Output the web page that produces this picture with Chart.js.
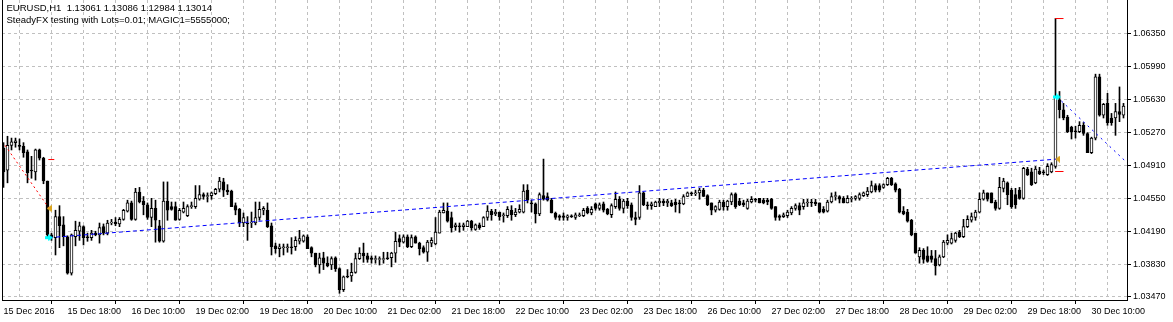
<!DOCTYPE html>
<html><head><meta charset="utf-8">
<script src="https://cdn.jsdelivr.net/npm/chart.js@4.4.1/dist/chart.umd.min.js"></script>
<style>html,body{margin:0;padding:0;background:#fff;overflow:hidden}</style>
</head><body>
<canvas id="c" width="1173" height="322"></canvas>
<script>
const headerLines = ["EURUSD,H1  1.13061 1.13086 1.12984 1.13014", "SteadyFX testing with Lots=0.01; MAGIC1=5555000;"];
const xTickLabels = ["15 Dec 2016","15 Dec 18:00","16 Dec 10:00","19 Dec 02:00","19 Dec 18:00","20 Dec 10:00","21 Dec 02:00","21 Dec 18:00","22 Dec 10:00","23 Dec 02:00","23 Dec 18:00","26 Dec 10:00","27 Dec 02:00","27 Dec 18:00","28 Dec 10:00","29 Dec 02:00","29 Dec 18:00","30 Dec 10:00"];
const yTickValues = [1.03470,1.03830,1.04190,1.04550,1.04910,1.05270,1.05630,1.05990,1.06350];

const open = [
1.0510,1.0486,1.0513,1.0516,1.0513,1.0512,1.0506,1.0486,1.0484,1.0508,
1.0499,1.0474,1.0415,1.0412,1.0435,1.0426,1.0413,1.0373,1.0413,1.0419,
1.0424,1.0413,1.0412,1.0417,1.0415,1.0424,1.0417,1.0428,1.0429,1.0427,
1.0432,1.0441,1.0450,1.0432,1.0462,1.0452,1.0448,1.0434,1.0444,1.0425,
1.0408,1.0452,1.0446,1.0446,1.0432,1.0440,1.0436,1.0446,1.0446,1.0454,
1.0459,1.0457,1.0458,1.0460,1.0465,1.0473,1.0464,1.0463,1.0447,1.0443,
1.0428,1.0428,1.0428,1.0428,1.0434,1.0442,1.0442,1.0425,1.0403,1.0400,
1.0401,1.0401,1.0402,1.0402,1.0408,1.0408,1.0413,1.0401,1.0395,1.0382,
1.0390,1.0384,1.0382,1.0390,1.0378,1.0355,1.0370,1.0370,1.0374,1.0389,
1.0395,1.0392,1.0390,1.0388,1.0388,1.0388,1.0390,1.0390,1.0395,1.0411,
1.0407,1.0413,1.0402,1.0413,1.0406,1.0401,1.0396,1.0406,1.0405,1.0417,
1.0439,1.0441,1.0434,1.0424,1.0425,1.0424,1.0424,1.0430,1.0421,1.0426,
1.0424,1.0434,1.0441,1.0438,1.0440,1.0436,1.0436,1.0442,1.0437,1.0440,
1.0440,1.0464,1.0450,1.0449,1.0438,1.0458,1.0457,1.0453,1.0439,1.0436,
1.0436,1.0434,1.0436,1.0434,1.0436,1.0436,1.0444,1.0439,1.0449,1.0444,
1.0449,1.0443,1.0437,1.0446,1.0454,1.0444,1.0452,1.0448,1.0434,1.0434,
1.0461,1.0448,1.0447,1.0446,1.0450,1.0452,1.0450,1.0450,1.0451,1.0450,
1.0449,1.0457,1.0461,1.0460,1.0461,1.0464,1.0458,1.0450,1.0442,1.0443,
1.0451,1.0446,1.0451,1.0460,1.0452,1.0450,1.0444,1.0451,1.0454,1.0455,
1.0453,1.0453,1.0454,1.0446,1.0436,1.0435,1.0436,1.0439,1.0444,1.0447,
1.0446,1.0450,1.0451,1.0451,1.0450,1.0443,1.0441,1.0451,1.0457,1.0457,
1.0455,1.0450,1.0454,1.0455,1.0455,1.0458,1.0459,1.0462,1.0469,1.0469,
1.0467,1.0470,1.0477,1.0471,1.0465,1.0441,1.0440,1.0431,1.0417,1.0391,
1.0398,1.0392,1.0392,1.0389,1.0382,1.0391,1.0406,1.0406,1.0409,1.0418,
1.0413,1.0424,1.0431,1.0434,1.0440,1.0454,1.0461,1.0461,1.0451,1.0444,
1.0466,1.0472,1.0464,1.0459,1.0464,1.0455,1.0487,1.0484,1.0472,1.0485,
1.0484,1.0481,1.0484,1.0490,1.0563,1.0552,1.0544,1.0533,1.0529,1.0528,
1.0535,1.0526,1.0505,1.0521,1.0588,1.0546,1.0559,1.0543,1.0543,1.0550,
1.0546
];
const high = [
1.0516,1.0523,1.0521,1.0521,1.0520,1.0516,1.0508,1.0501,1.0509,1.0509,
1.0500,1.0474,1.0417,1.0442,1.0447,1.0435,1.0414,1.0416,1.0430,1.0429,
1.0425,1.0417,1.0420,1.0419,1.0428,1.0427,1.0431,1.0432,1.0434,1.0434,
1.0443,1.0453,1.0452,1.0466,1.0467,1.0457,1.0450,1.0455,1.0453,1.0431,
1.0473,1.0473,1.0451,1.0451,1.0444,1.0451,1.0448,1.0451,1.0469,1.0469,
1.0461,1.0461,1.0462,1.0466,1.0478,1.0477,1.0470,1.0464,1.0450,1.0444,
1.0439,1.0435,1.0440,1.0451,1.0451,1.0446,1.0450,1.0428,1.0406,1.0405,
1.0405,1.0405,1.0412,1.0413,1.0420,1.0415,1.0415,1.0402,1.0395,1.0395,
1.0396,1.0391,1.0391,1.0391,1.0379,1.0370,1.0377,1.0384,1.0395,1.0401,
1.0406,1.0395,1.0392,1.0392,1.0391,1.0396,1.0396,1.0396,1.0418,1.0415,
1.0415,1.0415,1.0415,1.0414,1.0407,1.0403,1.0409,1.0412,1.0434,1.0442,
1.0450,1.0450,1.0440,1.0428,1.0428,1.0428,1.0431,1.0431,1.0427,1.0428,
1.0435,1.0447,1.0443,1.0443,1.0440,1.0439,1.0446,1.0447,1.0444,1.0448,
1.0470,1.0470,1.0453,1.0450,1.0461,1.0498,1.0461,1.0455,1.0440,1.0437,
1.0439,1.0437,1.0437,1.0439,1.0439,1.0444,1.0446,1.0446,1.0450,1.0450,
1.0451,1.0444,1.0449,1.0462,1.0457,1.0454,1.0455,1.0450,1.0440,1.0469,
1.0462,1.0451,1.0451,1.0452,1.0455,1.0454,1.0454,1.0453,1.0454,1.0453,
1.0459,1.0462,1.0462,1.0464,1.0466,1.0466,1.0459,1.0450,1.0447,1.0453,
1.0453,1.0453,1.0461,1.0461,1.0455,1.0453,1.0454,1.0457,1.0455,1.0455,
1.0455,1.0455,1.0455,1.0446,1.0437,1.0439,1.0442,1.0446,1.0449,1.0450,
1.0454,1.0454,1.0454,1.0454,1.0450,1.0446,1.0453,1.0461,1.0462,1.0458,
1.0457,1.0458,1.0457,1.0458,1.0461,1.0462,1.0467,1.0474,1.0471,1.0471,
1.0471,1.0478,1.0478,1.0472,1.0466,1.0446,1.0443,1.0432,1.0417,1.0401,
1.0400,1.0402,1.0398,1.0398,1.0393,1.0409,1.0415,1.0417,1.0418,1.0420,
1.0432,1.0436,1.0439,1.0442,1.0461,1.0464,1.0461,1.0461,1.0453,1.0478,
1.0477,1.0473,1.0466,1.0466,1.0467,1.0489,1.0489,1.0488,1.0490,1.0489,
1.0486,1.0493,1.0494,1.0652,1.0572,1.0559,1.0546,1.0534,1.0534,1.0539,
1.0538,1.0527,1.0522,1.0591,1.0591,1.0559,1.0570,1.0548,1.0559,1.0577,
1.0559
];
const low = [
1.0467,1.0472,1.0508,1.0511,1.0508,1.0500,1.0472,1.0477,1.0475,1.0497,
1.0471,1.0413,1.0409,1.0393,1.0401,1.0403,1.0372,1.0371,1.0403,1.0409,
1.0404,1.0408,1.0409,1.0414,1.0406,1.0415,1.0415,1.0426,1.0425,1.0424,
1.0431,1.0440,1.0431,1.0431,1.0450,1.0437,1.0432,1.0424,1.0407,1.0407,
1.0407,1.0431,1.0442,1.0431,1.0431,1.0439,1.0435,1.0444,1.0444,1.0453,
1.0454,1.0451,1.0454,1.0459,1.0462,1.0457,1.0459,1.0446,1.0437,1.0424,
1.0424,1.0409,1.0423,1.0426,1.0431,1.0437,1.0423,1.0393,1.0395,1.0391,
1.0393,1.0396,1.0394,1.0398,1.0405,1.0407,1.0400,1.0391,1.0380,1.0373,
1.0377,1.0380,1.0377,1.0375,1.0351,1.0353,1.0368,1.0364,1.0373,1.0388,
1.0385,1.0385,1.0384,1.0384,1.0382,1.0384,1.0388,1.0380,1.0385,1.0402,
1.0406,1.0401,1.0401,1.0406,1.0393,1.0395,1.0386,1.0402,1.0404,1.0417,
1.0439,1.0429,1.0418,1.0420,1.0418,1.0420,1.0424,1.0420,1.0420,1.0421,
1.0424,1.0431,1.0431,1.0436,1.0431,1.0429,1.0434,1.0431,1.0435,1.0439,
1.0439,1.0450,1.0440,1.0428,1.0436,1.0453,1.0452,1.0439,1.0432,1.0431,
1.0431,1.0431,1.0434,1.0432,1.0435,1.0435,1.0438,1.0437,1.0442,1.0442,
1.0440,1.0437,1.0434,1.0444,1.0442,1.0439,1.0444,1.0431,1.0426,1.0432,
1.0447,1.0443,1.0443,1.0446,1.0446,1.0447,1.0446,1.0446,1.0440,1.0439,
1.0448,1.0457,1.0458,1.0458,1.0454,1.0457,1.0447,1.0437,1.0440,1.0442,
1.0442,1.0442,1.0448,1.0444,1.0447,1.0446,1.0443,1.0450,1.0451,1.0450,
1.0449,1.0448,1.0443,1.0431,1.0431,1.0434,1.0434,1.0437,1.0442,1.0437,
1.0443,1.0446,1.0446,1.0447,1.0439,1.0439,1.0440,1.0450,1.0453,1.0450,
1.0450,1.0450,1.0451,1.0453,1.0453,1.0457,1.0457,1.0461,1.0462,1.0462,
1.0466,1.0469,1.0469,1.0462,1.0439,1.0437,1.0429,1.0414,1.0395,1.0384,
1.0384,1.0385,1.0385,1.0371,1.0381,1.0390,1.0404,1.0405,1.0407,1.0412,
1.0412,1.0423,1.0429,1.0431,1.0439,1.0453,1.0452,1.0450,1.0442,1.0443,
1.0462,1.0448,1.0444,1.0444,1.0454,1.0454,1.0480,1.0469,1.0471,1.0481,
1.0481,1.0480,1.0483,1.0488,1.0543,1.0541,1.0527,1.0520,1.0521,1.0527,
1.0524,1.0505,1.0504,1.0519,1.0545,1.0543,1.0535,1.0535,1.0524,1.0539,
1.0543
];
const close = [
1.0484,1.0513,1.0517,1.0518,1.0512,1.0505,1.0483,1.0485,1.0508,1.0499,
1.0474,1.0415,1.0412,1.0435,1.0425,1.0413,1.0373,1.0415,1.0420,1.0425,
1.0412,1.0412,1.0417,1.0415,1.0423,1.0417,1.0428,1.0429,1.0427,1.0432,
1.0442,1.0450,1.0432,1.0462,1.0451,1.0448,1.0434,1.0444,1.0431,1.0408,
1.0452,1.0442,1.0443,1.0431,1.0442,1.0444,1.0446,1.0447,1.0455,1.0459,
1.0457,1.0458,1.0461,1.0465,1.0474,1.0464,1.0462,1.0446,1.0442,1.0428,
1.0434,1.0427,1.0429,1.0434,1.0443,1.0444,1.0424,1.0402,1.0400,1.0402,
1.0402,1.0402,1.0401,1.0409,1.0411,1.0414,1.0400,1.0395,1.0382,1.0390,
1.0384,1.0381,1.0389,1.0378,1.0355,1.0369,1.0369,1.0374,1.0389,1.0395,
1.0392,1.0388,1.0388,1.0389,1.0389,1.0389,1.0389,1.0395,1.0408,1.0407,
1.0413,1.0402,1.0412,1.0406,1.0400,1.0396,1.0407,1.0409,1.0418,1.0440,
1.0442,1.0430,1.0423,1.0426,1.0424,1.0426,1.0430,1.0423,1.0426,1.0423,
1.0434,1.0441,1.0437,1.0440,1.0435,1.0437,1.0443,1.0437,1.0440,1.0443,
1.0463,1.0453,1.0449,1.0438,1.0459,1.0454,1.0453,1.0439,1.0434,1.0434,
1.0434,1.0436,1.0435,1.0437,1.0437,1.0442,1.0439,1.0443,1.0444,1.0448,
1.0442,1.0438,1.0447,1.0454,1.0444,1.0452,1.0447,1.0434,1.0432,1.0461,
1.0448,1.0447,1.0449,1.0451,1.0452,1.0450,1.0452,1.0447,1.0448,1.0449,
1.0457,1.0461,1.0460,1.0461,1.0464,1.0457,1.0448,1.0442,1.0446,1.0451,
1.0446,1.0452,1.0459,1.0446,1.0448,1.0448,1.0452,1.0454,1.0453,1.0450,
1.0450,1.0451,1.0444,1.0434,1.0434,1.0437,1.0440,1.0444,1.0447,1.0442,
1.0450,1.0451,1.0450,1.0449,1.0440,1.0440,1.0451,1.0457,1.0458,1.0454,
1.0450,1.0455,1.0455,1.0457,1.0459,1.0461,1.0463,1.0469,1.0464,1.0464,
1.0470,1.0477,1.0470,1.0464,1.0440,1.0438,1.0430,1.0415,1.0395,1.0398,
1.0388,1.0386,1.0388,1.0381,1.0391,1.0407,1.0409,1.0411,1.0417,1.0413,
1.0424,1.0432,1.0435,1.0440,1.0454,1.0461,1.0454,1.0450,1.0444,1.0467,
1.0474,1.0459,1.0446,1.0448,1.0455,1.0488,1.0481,1.0470,1.0487,1.0482,
1.0483,1.0490,1.0492,1.0566,1.0552,1.0543,1.0528,1.0528,1.0528,1.0535,
1.0526,1.0505,1.0521,1.0588,1.0546,1.0558,1.0538,1.0538,1.0550,1.0547,
1.0556
];

// trade objects (bar index, price)
const sellTradeLine = [{x:0.4,y:1.0513},{x:11.4,y:1.0444}];
const buyTradeLine = [{x:11.4,y:1.0412},{x:263.4,y:1.0498}];
const openOrderLine = [{x:263.4,y:1.0566},{x:280.9,y:1.0494}];
const entryArrows = [{x:11.4,y:1.0412},{x:263.4,y:1.0566}];
const exitMarks = [{x:11.4,y:1.0444},{x:263.5,y:1.0498}];
const levelA = [{x:11.2,y:1.04975},{x:12.7,y:1.04975}];
const levelB = [{x:262.9,y:1.06519},{x:265.0,y:1.06519}];
const levelC = [{x:262.9,y:1.04844},{x:265.0,y:1.04844}];

function makeArrow(){const c=document.createElement('canvas');c.width=8;c.height=7;const g=c.getContext('2d');g.fillStyle='#00ffff';g.fillRect(0,2,4,3);g.beginPath();g.moveTo(3,0);g.lineTo(8,3.5);g.lineTo(3,7);g.closePath();g.fill();return c;}
function makeTri(){const c=document.createElement('canvas');c.width=5;c.height=7;const g=c.getContext('2d');g.fillStyle='#daa520';g.beginPath();g.moveTo(0,3.5);g.lineTo(5,0);g.lineTo(5,7);g.closePath();g.fill();return c;}

Chart.defaults.font.family = '"Liberation Sans", Arial, sans-serif';
Chart.defaults.font.size = 9;
Chart.defaults.color = '#000';

const idx = open.map((_, i) => i);
const bodies = idx.map(i => ({x:i, y:[open[i], close[i]]}));
const wicks = idx.map(i => ({x:i, y:[low[i], high[i]]}));
const bodyColors = idx.map(i => close[i] >= open[i] ? '#ffffff' : '#000000');

const lineDs = (data, color, dash, order) => ({type:'line', data, borderColor:color, borderWidth:1, borderDash:dash, pointRadius:0, fill:false, tension:0, order});

const framePlugin = {
  id:'frame',
  afterDraw(chart){
    const c = chart.ctx, a = chart.chartArea;
    c.save();
    c.fillStyle = '#000';
    c.fillRect(a.left, a.top, 1, a.bottom - a.top + 1);
    c.font = '9.5px "Liberation Sans", Arial, sans-serif';
    c.textBaseline = 'alphabetic';
    c.fillText(headerLines[0], 6.5, 11);
    c.fillText(headerLines[1], 6.5, 23);
    c.restore();
  }
};

new Chart(document.getElementById('c'), {
  type:'bar',
  data:{
    datasets:[
      {type:'line', data:entryArrows, showLine:false, pointStyle:makeArrow(), pointRadius:4, order:0},
      {type:'line', data:exitMarks, showLine:false, pointStyle:makeTri(), pointRadius:4, order:0},
      lineDs(levelA, '#ff0000', [], 1),
      lineDs(levelB, '#ff0000', [], 1),
      lineDs(levelC, '#ff0000', [], 1),
      lineDs(sellTradeLine, '#ff0000', [2,3], 1),
      lineDs(buyTradeLine, '#0000ff', [4,3], 1),
      lineDs(openOrderLine, '#0000ff', [2,4], 1),
      {type:'bar', data:bodies, backgroundColor:bodyColors, borderColor:'#000', borderWidth:1, borderSkipped:false, barThickness:3, grouped:false, order:4},
      {type:'bar', data:wicks, backgroundColor:'#000', borderWidth:0, barThickness:1, grouped:false, order:5}
    ]
  },
  options:{
    responsive:false, animation:false, devicePixelRatio:1,
    layout:{autoPadding:false, padding:{left:2,right:0,top:0,bottom:0}},
    plugins:{legend:{display:false}, tooltip:{enabled:false}},
    scales:{
      x:{
        type:'linear', position:'bottom', min:-0.375, max:280.875, offset:false,
        afterBuildTicks:s=>{ const t=[]; for(let v=0; v<=280; v+=8) t.push({value:v}); s.ticks=t; },
        afterFit:s=>{ s.height=22; s.paddingLeft=0; s.paddingRight=0; },
        ticks:{autoSkip:false, maxRotation:0, minRotation:0, align:'start', padding:2,
          callback:v=> (v % 16 === 0) ? xTickLabels[v/16] : ''},
        grid:{lineWidth:1, tickLength:4,
          color:ctx=> (ctx.tick && ctx.tick.value === 0) ? 'rgba(0,0,0,0)' : '#c0c0c0',
          tickColor:ctx=> (ctx.tick && ctx.tick.value % 16 === 0) ? '#000' : 'rgba(0,0,0,0)'},
        border:{display:true, color:'#000', width:1, dash:[3,3]}
      },
      y:{
        type:'linear', position:'right', min:1.03437, max:1.06722,
        afterBuildTicks:s=>{ s.ticks = yTickValues.map(v=>({value:v})); },
        afterFit:s=>{ s.width=46; s.paddingTop=0; s.paddingBottom=0; },
        ticks:{autoSkip:false, padding:2, callback:v=>Number(v).toFixed(5)},
        grid:{lineWidth:1, tickLength:4, color:'#c0c0c0', tickColor:'#000'},
        border:{display:true, color:'#000', width:1, dash:[3,3]}
      }
    }
  },
  plugins:[framePlugin]
});
</script>
</body></html>
